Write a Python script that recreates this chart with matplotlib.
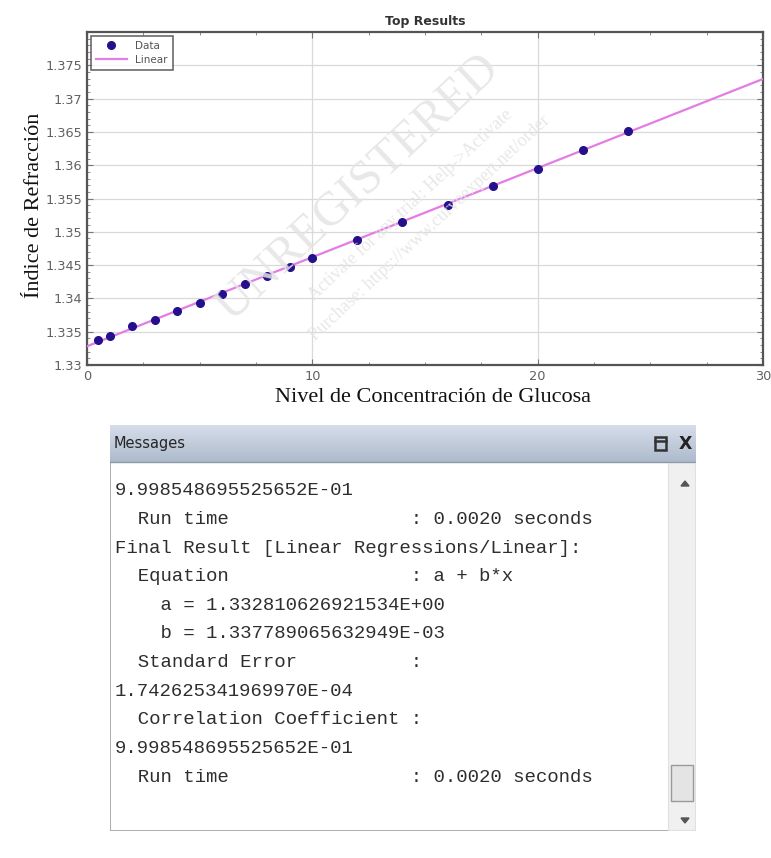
import matplotlib
matplotlib.use("Agg")
import matplotlib.pyplot as plt
import numpy as np
from matplotlib.ticker import MultipleLocator, FuncFormatter
from matplotlib.patches import Rectangle, Polygon

# ---------------- data ----------------
conc = [0.5, 1, 2, 3, 4, 5, 6, 7, 8, 9, 10, 12, 14, 16, 18, 20, 22, 24]
ri = [1.33375, 1.3344, 1.33585, 1.3368, 1.33815, 1.33935, 1.34065, 1.34215,
      1.3433, 1.34465, 1.346, 1.3487, 1.3514, 1.3540, 1.35685, 1.3595,
      1.3623, 1.3651]
linear_x = [0, 30]
linear_y = [1.33281, 1.37295]

x_ticks = [0, 10, 20, 30]
y_ticks = [1.33, 1.335, 1.34, 1.345, 1.35, 1.355, 1.36, 1.365, 1.37, 1.375]

title = "Top Results"
x_label = "Nivel de Concentración de Glucosa"
y_label = "Índice de Refracción"

msg_title = "Messages"
msg_lines = [
    "9.998548695525652E-01",
    "  Run time                : 0.0020 seconds",
    "Final Result [Linear Regressions/Linear]:",
    "  Equation                : a + b*x",
    "    a = 1.332810626921534E+00",
    "    b = 1.337789065632949E-03",
    "  Standard Error          :",
    "1.742625341969970E-04",
    "  Correlation Coefficient :",
    "9.998548695525652E-01",
    "  Run time                : 0.0020 seconds",
]

W, H = 771, 858
fig = plt.figure(figsize=(W / 100, H / 100), dpi=100)
fig.patch.set_facecolor("white")

def fr(x0, y0, x1, y1):
    return [x0 / W, 1 - y1 / H, (x1 - x0) / W, (y1 - y0) / H]

# ---------------- chart ----------------
ax = fig.add_axes(fr(87, 32, 763, 365))
ax.plot(linear_x, linear_y, color="#e47ce4", lw=1.6, label="Linear", zorder=3)
ax.plot(conc, ri, "o", color="#25108c", ms=5.5, label="Data", zorder=4)
ax.set_xlim(0, 30)
ax.set_ylim(1.33, 1.38)
ax.set_xticks(x_ticks)
ax.set_yticks(y_ticks)
ax.yaxis.set_major_formatter(FuncFormatter(lambda v, p: ("%.3f" % v).rstrip("0")))
ax.xaxis.set_minor_locator(MultipleLocator(2.5))
ax.yaxis.set_minor_locator(MultipleLocator(0.001))
ax.grid(True, which="major", color="#d9d9d9", lw=0.9)
ax.tick_params(which="both", direction="in", top=True, right=True,
               colors="#777777", labelcolor="#606060", labelsize=9.3)
ax.tick_params(which="major", length=4, width=0.8)
ax.tick_params(which="minor", length=2, width=0.6)
for s in ax.spines.values():
    s.set_color("#555555")
    s.set_linewidth(1.6)
ax.set_title(title, fontsize=9, color="#333333", pad=5, fontweight="semibold")
ax.set_xlabel(x_label, family="Liberation Serif", fontsize=16, color="#111111", labelpad=4)
ax.set_ylabel(y_label, family="Liberation Serif", fontsize=16, color="#111111", labelpad=1)
ax.xaxis.label.set_x(0.512)
ax.yaxis.label.set_y(0.48)
h, l = ax.get_legend_handles_labels()
leg = ax.legend([h[1], h[0]], [l[1], l[0]], loc="upper left", fontsize=7.5,
                frameon=True, fancybox=False, borderpad=0.5, handlelength=3.0,
                labelspacing=0.4, borderaxespad=0.35, numpoints=1, handletextpad=0.8)
leg.get_frame().set_edgecolor("#444444")
leg.get_frame().set_linewidth(1.2)
for t in leg.get_texts():
    t.set_color("#555555")

# watermark
wm = dict(transform=fig.transFigure, color="#e4e4e4", ha="center", va="center",
          rotation=43, zorder=10, family="Liberation Serif")
fig.text(358 / W, 1 - 188 / H, "UNREGISTERED", fontsize=35, alpha=0.85, **wm)
fig.text(410 / W, 1 - 205 / H, "Activate for any trial: Help->Activate", fontsize=13, alpha=0.85, **wm)
fig.text(430 / W, 1 - 228 / H, "Purchase: https://www.curveexpert.net/order", fontsize=13, alpha=0.85, **wm)

# ---------------- messages panel ----------------
px0, py0, px1, py1 = 110, 425, 696, 831
pa = fig.add_axes(fr(px0, py0, px1, py1))
pw, ph = px1 - px0, py1 - py0
pa.set_xlim(0, pw)
pa.set_ylim(ph, 0)
pa.axis("off")
pa.add_patch(Rectangle((0, 0), pw, ph, facecolor="white", edgecolor="#a0a0a0", lw=1.2))
# header gradient
grad = np.linspace(0, 1, 64).reshape(-1, 1)
top = np.array([0.84, 0.87, 0.92])
bot = np.array([0.68, 0.73, 0.80])
img = top + (bot - top) * grad[..., None]
img = np.repeat(img, 2, axis=1)
pa.imshow(img, extent=(0, pw, 37, 0), aspect="auto", zorder=1)
pa.plot([0, pw], [37, 37], color="#8c98a8", lw=1, zorder=2)
pa.text(4, 19, msg_title, fontsize=10.5, color="#252525", va="center", ha="left",
        family="DejaVu Sans Condensed", zorder=3)
# icons
pa.add_patch(Rectangle((545, 12), 11, 13, facecolor="none", edgecolor="#333333", lw=1.8, zorder=3))
pa.plot([545, 556], [16, 16], color="#333333", lw=1.8, zorder=3)
pa.text(575, 19, "X", fontsize=12.5, color="#222222", va="center", ha="center",
        fontweight="bold", zorder=3)
# scrollbar
pa.add_patch(Rectangle((558, 38), pw - 558 - 1, ph - 39, facecolor="#f0f0f0", edgecolor="#e0e0e0", lw=0.8, zorder=2))
pa.add_patch(Polygon([[571, 61], [575, 56], [579, 61]], closed=True, color="#555555", zorder=3))
pa.add_patch(Polygon([[571, 393], [575, 398], [579, 393]], closed=True, color="#555555", zorder=3))
pa.add_patch(Rectangle((561, 340), 22, 36, facecolor="#e4e4e4", edgecolor="#9a9a9a", lw=1.0, zorder=3))
# text lines
for i, line in enumerate(msg_lines):
    pa.text(5, 66 + i * 28.6, line, fontsize=13.7, family="Liberation Mono",
            color="#2e2e2e", va="center", ha="left", zorder=3)

fig.savefig("out.png", dpi=100, facecolor="white")
